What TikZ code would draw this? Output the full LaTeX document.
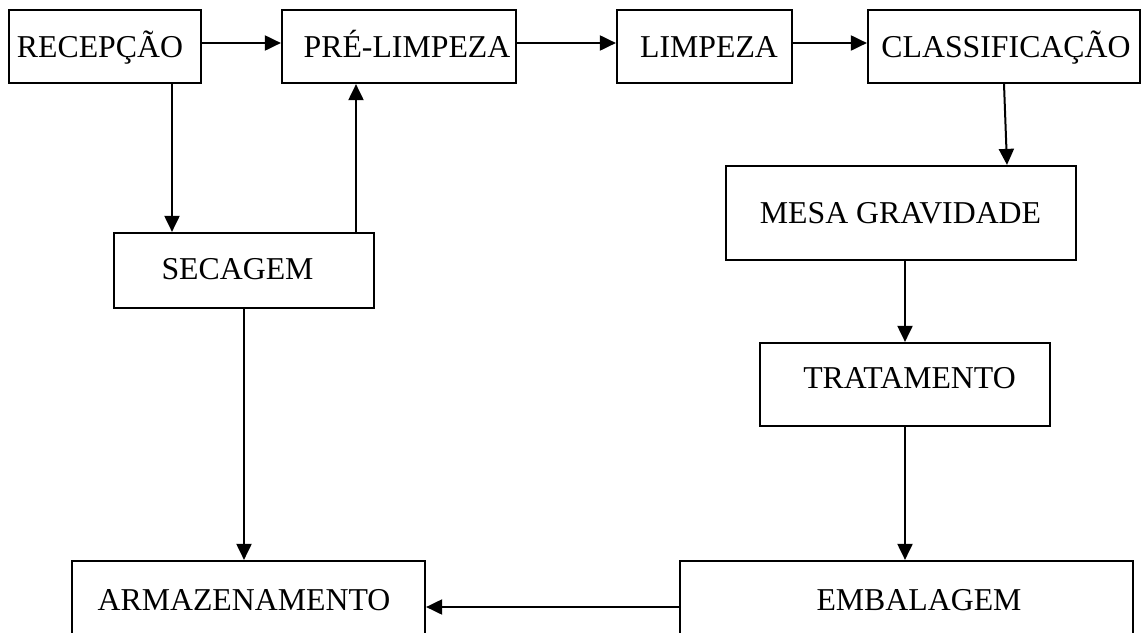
\documentclass[tikz,border=0pt]{standalone}
\usepackage{fontspec}
\setmainfont{Liberation Serif}
\usetikzlibrary{arrows.meta,calc}
\begin{document}
\begin{tikzpicture}[x=1pt,y=-1pt,
  box/.style={draw,line width=2.2pt,inner sep=0pt,rectangle},
  lbl/.style={anchor=base,inner sep=0pt,font=\fontsize{31.8}{38}\selectfont},
  arr/.style={line width=2pt,-{Triangle[length=16pt,width=15pt]}},
  plain/.style={line width=2pt}]
\clip (0,0) rectangle (1142,632);
\fill[white] (0,0) rectangle (1142,632);
% boxes
\node[box,minimum width=192pt,minimum height=73pt] (rec) at (105,46.5) {};
\node[box,minimum width=234pt,minimum height=73pt] (pre) at (399,46.5) {};
\node[box,minimum width=175pt,minimum height=73pt] (lim) at (704.5,46.5) {};
\node[box,minimum width=272pt,minimum height=73pt] (cla) at (1004,46.5) {};
\node[box,minimum width=350pt,minimum height=94pt] (mes) at (901,213) {};
\node[box,minimum width=260pt,minimum height=75pt] (sec) at (244,270.5) {};
\node[box,minimum width=290pt,minimum height=83pt] (tra) at (905,384.5) {};
\node[box,minimum width=453pt,minimum height=92pt] (emb) at (906.5,607) {};
\node[box,minimum width=353pt,minimum height=92pt] (arm) at (248.5,607) {};
% labels
\node[lbl] (trec) at (100,57) {RECEPÇÃO};
\node[lbl] (tpre) at (407,57) {PRÉ-LIMPEZA};
\node[lbl] (tlim) at (709,57) {LIMPEZA};
\node[lbl] (tcla) at (1006,57) {CLASSIFICAÇÃO};
\node[lbl] (tmes) at (900.5,223) {MESA GRAVIDADE};
\node[lbl] (tsec) at (237.5,279) {SECAGEM};
\node[lbl] (ttra) at (909.5,388) {TRATAMENTO};
\node[lbl] (temb) at (919,610) {EMBALAGEM};
\node[lbl] (tarm) at (244,610) {ARMAZENAMENTO};
% connectors
\draw[arr] ([yshift=3.5pt]rec.east) -- ([yshift=3.5pt]rec.east -| pre.west);
\draw[arr] ([yshift=3.5pt]pre.east) -- ([yshift=3.5pt]pre.east -| lim.west);
\draw[arr] ([yshift=3.5pt]lim.east) -- ([yshift=3.5pt]lim.east -| cla.west);
\draw[arr] (cla.south) -- ([xshift=106pt]mes.north);
\draw[arr] ([xshift=67pt]rec.south) -- ([xshift=67pt]rec.south |- sec.north);
\draw[arr] ([xshift=112pt]sec.north) -- ([xshift=112pt]sec.north |- pre.south);
\draw[arr] (sec.south) -- (sec.south |- arm.north);
\draw[arr] (mes.south -| tra.north) -- (tra.north);
\draw[arr] (tra.south) -- (tra.south |- emb.north);
\draw[arr] (emb.west) -- (arm.east);
\end{tikzpicture}
\end{document}
